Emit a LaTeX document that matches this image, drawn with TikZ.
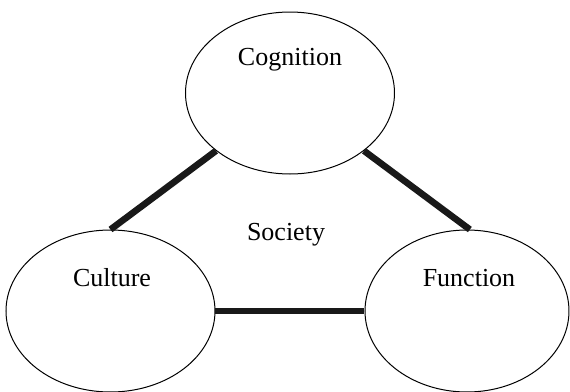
\documentclass[tikz,border=0pt]{standalone}
\usepackage{fontspec}
\setmainfont{Liberation Serif}
\usetikzlibrary{shapes.geometric,positioning}
\tikzset{
  area/.style={ellipse, draw=black, line width=0.5pt, inner sep=0pt,
    minimum width=104.5pt, minimum height=81pt},
  areaname/.style={font=\fontsize{13}{15}\selectfont, inner sep=0pt},
  tie/.style={draw=black!90, line width=3.3pt}
}
\begin{document}
\begin{tikzpicture}
% pixel grid of the reference, y pointing down
\begin{scope}[x=0.5pt, y=-0.5pt]
  \useasboundingbox (0,0) rectangle (570,392);
  % The three areas
  \node[area] (cog) at (290,93) {};
  \node[area] (cul) at (110.5,311) {};
  \node[area, minimum width=102pt] (fun) at (467,311) {};
  % Names
  \node[areaname] (cogname) at (290,60) {Cognition};
  \node[areaname] (culname) at (112,278) {Culture};
  \node[areaname] (funname) at (469,278) {Function};
  \node[areaname] (soc) at (286,235) {Society};
  % Ties between the areas
  \draw[tie] (cog.218) -- (cul.90);
  \draw[tie] (cog.322) -- (fun.88);
  \draw[tie] (cul.east) -- (fun.west);
\end{scope}
\end{tikzpicture}
\end{document}
